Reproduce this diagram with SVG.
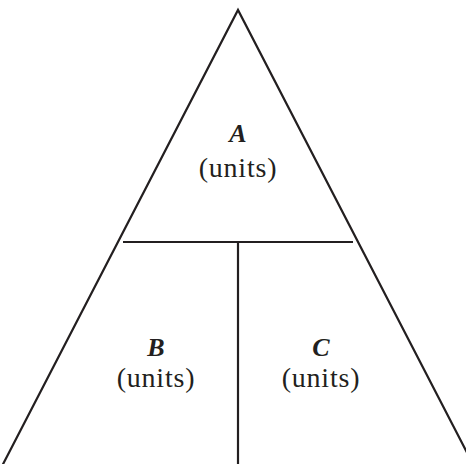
<svg xmlns="http://www.w3.org/2000/svg" width="466" height="464" viewBox="0 0 466 464">
<style>
.ln{stroke:#231f20;stroke-width:2.2;fill:none;stroke-linecap:butt}
.v{font-family:"Liberation Serif",serif;font-style:italic;font-weight:bold;font-size:26px;fill:#231f20;text-anchor:middle}
.u{font-family:"Liberation Serif",serif;font-size:28px;fill:#231f20;text-anchor:middle;letter-spacing:0.8px}
</style>
<rect width="466" height="464" fill="#fff"/>
<g id="connectors">
<polyline class="ln" points="0,470 238,10 476,470"/>
<line class="ln" x1="123" y1="242" x2="353" y2="242"/>
<line class="ln" x1="238" y1="242" x2="238" y2="464"/>
</g>
<g id="nodeA"><text class="v" x="238" y="142">A</text><text class="u" x="238" y="177">(units)</text></g>
<g id="nodeB"><text class="v" x="156" y="356">B</text><text class="u" x="156" y="387">(units)</text></g>
<g id="nodeC"><text class="v" x="321" y="356">C</text><text class="u" x="321" y="387">(units)</text></g>
</svg>
